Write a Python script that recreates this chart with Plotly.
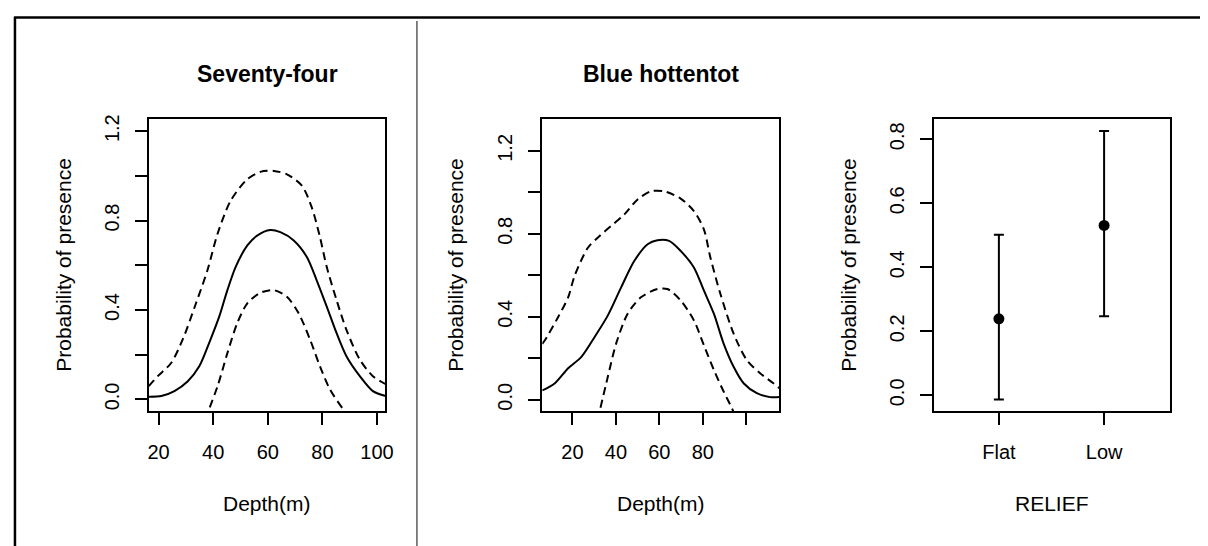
import plotly.graph_objects as go

# ---------------- data ----------------
# Panel 1: Seventy-four
s74_depth_fit = [16.4, 21, 25.8, 30.7, 34.9, 38.5, 42.2, 45.2, 48.2, 52.5, 56.1, 60.9, 64.6, 69.5, 74.3, 77.9, 81.6, 85.2, 88.8, 93.7, 98.5, 103.2]
s74_fit = [0.012, 0.015, 0.037, 0.081, 0.148, 0.252, 0.370, 0.489, 0.592, 0.689, 0.733, 0.758, 0.748, 0.711, 0.637, 0.533, 0.415, 0.296, 0.193, 0.104, 0.037, 0.015]
s74_depth_up = [16.4, 19.7, 24.6, 28.8, 33.7, 37.9, 41.6, 46.4, 52.5, 57.3, 62.2, 67.0, 72.5, 76.1, 79.1, 81.6, 85.2, 88.8, 93.7, 98.5, 103.4]
s74_up = [0.059, 0.104, 0.163, 0.267, 0.430, 0.578, 0.741, 0.889, 0.985, 1.018, 1.022, 1.007, 0.956, 0.859, 0.726, 0.592, 0.444, 0.311, 0.178, 0.104, 0.067]
s74_depth_lo = [37.0, 41.6, 45.2, 48.8, 52.5, 57.3, 62.2, 67.0, 71.3, 75.5, 79.1, 82.8, 87.6, 90.0]
s74_lo = [-0.090, 0.059, 0.207, 0.341, 0.430, 0.477, 0.489, 0.459, 0.385, 0.267, 0.148, 0.044, -0.044, -0.080]

# Panel 2: Blue hottentot
bh_depth_fit = [6.1, 11.9, 18.0, 24.1, 30.2, 36.3, 42.4, 48.5, 54.6, 59.1, 64.5, 69.8, 75.9, 80.5, 85.1, 89.6, 94.2, 98.8, 104.9, 111.0, 115.3]
bh_fit = [0.045, 0.080, 0.152, 0.207, 0.303, 0.407, 0.542, 0.670, 0.750, 0.769, 0.766, 0.718, 0.638, 0.527, 0.415, 0.271, 0.159, 0.080, 0.032, 0.013, 0.013]
bh_depth_up = [6.1, 7.3, 13.4, 18.0, 21.0, 27.1, 32.5, 37.8, 43.9, 50.0, 56.1, 62.2, 69.8, 75.9, 80.5, 83.5, 88.1, 94.2, 100.3, 106.4, 112.5, 115.3]
bh_up = [0.27, 0.287, 0.399, 0.494, 0.598, 0.733, 0.790, 0.838, 0.894, 0.966, 1.005, 1.005, 0.970, 0.910, 0.822, 0.686, 0.511, 0.319, 0.191, 0.128, 0.080, 0.056]
bh_depth_lo = [31.5, 36.3, 40.1, 45.4, 51.5, 59.1, 63.7, 69.8, 75.9, 80.5, 85.1, 89.6, 93.4, 95.0]
bh_lo = [-0.10, 0.112, 0.271, 0.415, 0.494, 0.534, 0.534, 0.479, 0.383, 0.263, 0.144, 0.040, -0.040, -0.080]

# Panel 3: RELIEF factor
relief_levels = ["Flat", "Low"]
relief_pos = [1, 2]
relief_fit = [0.239, 0.531]
relief_upper = [0.502, 0.826]
relief_lower = [-0.013, 0.247]

# tick labels
prob_ticks_12 = [0, 0.2, 0.4, 0.6, 0.8, 1.0, 1.2]
prob_text_12 = ["0.0", "", "0.4", "", "0.8", "", "1.2"]
prob_ticks_08 = [0, 0.2, 0.4, 0.6, 0.8]
prob_text_08 = ["0.0", "0.2", "0.4", "0.6", "0.8"]
depth_ticks = [20, 40, 60, 80, 100]
depth_text_1 = ["20", "40", "60", "80", "100"]
depth_text_2 = ["20", "40", "60", "80", ""]

# ---------------- figure ----------------
W, H = 1208, 546
FONT = "Liberation Sans, Arial, sans-serif"
LW = 2
DASH = "8px,5px"

fig = go.Figure()

def add_curves(xf, yf, xu, yu, xl, yl, xa, ya):
    fig.add_trace(go.Scatter(x=xf, y=yf, mode="lines",
                             line=dict(color="black", width=LW, shape="spline", smoothing=0.8),
                             xaxis=xa, yaxis=ya, showlegend=False, hoverinfo="skip"))
    fig.add_trace(go.Scatter(x=xu, y=yu, mode="lines",
                             line=dict(color="black", width=LW, dash=DASH, shape="spline", smoothing=0.8),
                             xaxis=xa, yaxis=ya, showlegend=False, hoverinfo="skip"))
    fig.add_trace(go.Scatter(x=xl, y=yl, mode="lines",
                             line=dict(color="black", width=LW, dash=DASH, shape="spline", smoothing=0.8),
                             xaxis=xa, yaxis=ya, showlegend=False, hoverinfo="skip"))

add_curves(s74_depth_fit, s74_fit, s74_depth_up, s74_up, s74_depth_lo, s74_lo, "x", "y")
add_curves(bh_depth_fit, bh_fit, bh_depth_up, bh_up, bh_depth_lo, bh_lo, "x2", "y2")

fig.add_trace(go.Scatter(
    x=relief_pos, y=relief_fit, mode="markers",
    marker=dict(color="black", size=11),
    error_y=dict(type="data", symmetric=False,
                 array=[u - f for u, f in zip(relief_upper, relief_fit)],
                 arrayminus=[f - l for f, l in zip(relief_fit, relief_lower)],
                 color="black", thickness=2, width=5),
    xaxis="x3", yaxis="y3", showlegend=False, hoverinfo="skip"))

def px_x(p):
    return p / W

def px_y(p):
    return 1 - p / H

ydom = [px_y(401.7), px_y(107.3)]
tickfont = dict(family=FONT, size=20, color="black")

common_axis = dict(showline=True, mirror=True, linecolor="black", linewidth=2,
                   ticks="outside", ticklen=12, tickwidth=2, tickcolor="black",
                   showgrid=False, zeroline=False, tickfont=tickfont, fixedrange=True)

fig.update_layout(
    width=W, height=H,
    margin=dict(l=0, r=0, t=0, b=0),
    paper_bgcolor="white", plot_bgcolor="white",
    xaxis=dict(domain=[px_x(140.7), px_x(379.3)], range=[16.36, 103.1], anchor="y",
               tickmode="array", tickvals=depth_ticks, ticktext=depth_text_1,
               ticklabelstandoff=10, **common_axis),
    yaxis=dict(domain=ydom, range=[-0.052, 1.253], anchor="x",
               tickmode="array", tickvals=prob_ticks_12, ticktext=prob_text_12,
               tickangle=-90, ticklabelstandoff=8, **common_axis),
    xaxis2=dict(domain=[px_x(537.3), px_x(776)], range=[6.1, 115.2], anchor="y2",
                tickmode="array", tickvals=depth_ticks, ticktext=depth_text_2,
                ticklabelstandoff=10, **common_axis),
    yaxis2=dict(domain=ydom, range=[-0.054, 1.352], anchor="x2",
                tickmode="array", tickvals=prob_ticks_12, ticktext=prob_text_12,
                tickangle=-90, ticklabelstandoff=8, **common_axis),
    xaxis3=dict(domain=[px_x(931.7), px_x(1170)], range=[0.381, 2.629], anchor="y3",
                tickmode="array", tickvals=relief_pos, ticktext=relief_levels,
                ticklabelstandoff=10, **common_axis),
    yaxis3=dict(domain=ydom, range=[-0.049, 0.8625], anchor="x3",
                tickmode="array", tickvals=prob_ticks_08, ticktext=prob_text_08,
                tickangle=-90, ticklabelstandoff=8, **common_axis),
)

labfont = dict(family=FONT, size=21, color="black")
titlefont = dict(family=FONT, size=23, color="black")

def ann(text, x, y, font, angle=0):
    fig.add_annotation(text=text, x=px_x(x), y=px_y(y), xref="paper", yref="paper",
                       showarrow=False, font=font, textangle=angle,
                       xanchor="center", yanchor="middle")

ann("<b>Seventy-four</b>", 260, 62, titlefont)
ann("<b>Blue hottentot</b>", 656.7, 62, titlefont)
ann("Depth(m)", 260, 495, labfont)
ann("Depth(m)", 656.7, 495, labfont)
ann("RELIEF", 1051, 495, labfont)
ann("Probability of presence", 55, 254.5, labfont, -90)
ann("Probability of presence", 450, 254.5, labfont, -90)
ann("Probability of presence", 845, 254.5, labfont, -90)

# frame lines
fig.add_shape(type="line", xref="paper", yref="paper",
              x0=px_x(5), x1=1, y0=px_y(4.5), y1=px_y(4.5), line=dict(color="black", width=2.5))
fig.add_shape(type="line", xref="paper", yref="paper",
              x0=px_x(6), x1=px_x(6), y0=px_y(4), y1=0, line=dict(color="black", width=2.5))
fig.add_shape(type="line", xref="paper", yref="paper",
              x0=px_x(411), x1=px_x(411), y0=px_y(8), y1=px_y(543), line=dict(color="#333333", width=1.2))

fig.write_html("out.html")
